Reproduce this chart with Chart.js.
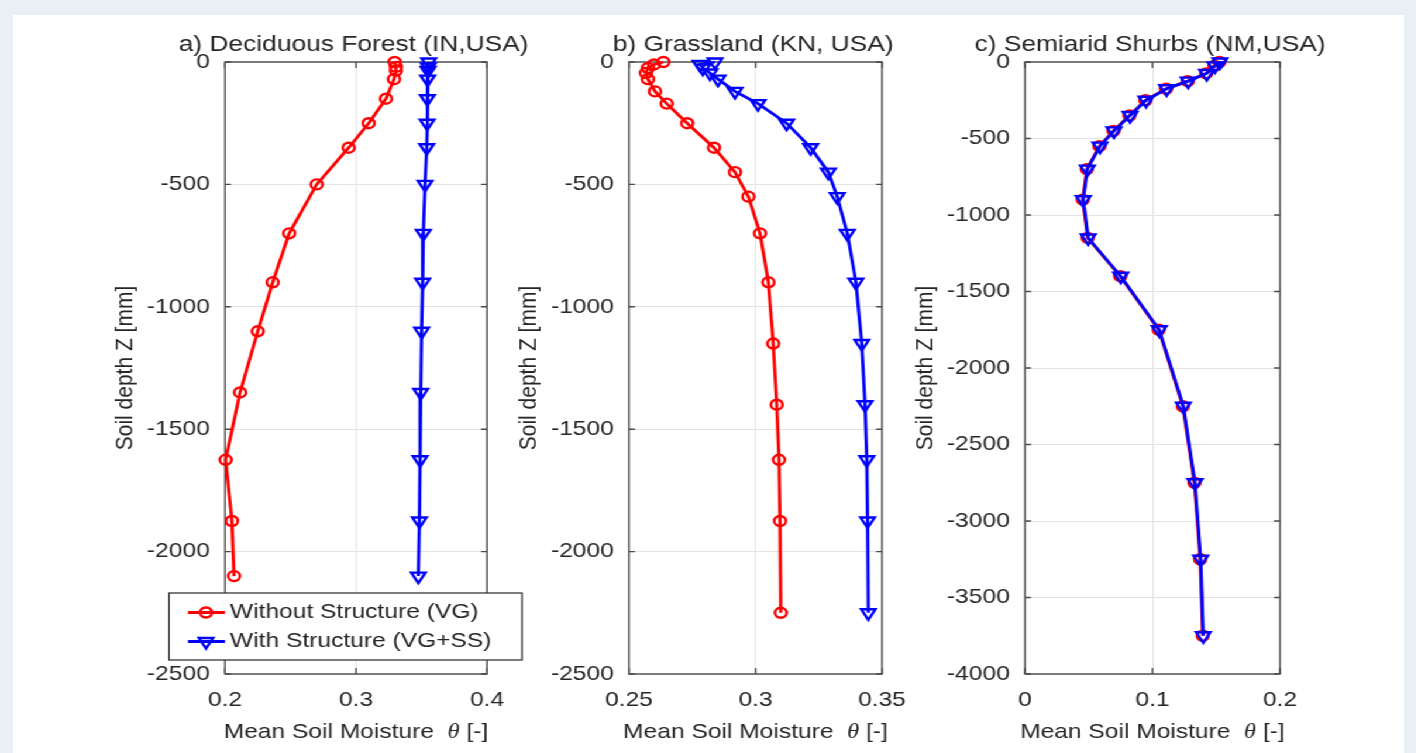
<!DOCTYPE html>
<html>
<head>
<meta charset="utf-8">
<title>Mean soil moisture profiles</title>
<script src="https://cdn.jsdelivr.net/npm/chart.js@4.4.0/dist/chart.umd.min.js"></script>
<style>
  html, body { margin: 0; padding: 0; background: #e9f0f4; overflow: hidden; }
  #sheet { position: absolute; left: 13px; top: 15px; width: 1391px; height: 738px; background: #fff; }
  /* the figure is exported with a horizontal stretch, so the panels are drawn narrower and scaled */
  #stretch { position: absolute; left: 0; top: 0; width: 1211px; height: 753px; transform: scaleX(1.17); transform-origin: 0 0; }
  #stretch canvas { position: absolute; top: 0; }
</style>
</head>
<body>
<div id="sheet"></div>
<div id="stretch">
  <canvas id="panelA" width="410" height="753" style="left:70px"></canvas>
  <canvas id="panelB" width="360" height="753" style="left:440px"></canvas>
  <canvas id="panelC" width="400" height="753" style="left:770px"></canvas>
</div>
<script>
const SX = 1.17;
const FONT = '"Liberation Sans", Arial, sans-serif';
const INK = '#262626';

const seriesNames = ['Without Structure (VG)', 'With Structure (VG+SS)'];
const panelTitles = ['a) Deciduous Forest (IN,USA)', 'b) Grassland (KN, USA)', 'c) Semiarid Shurbs (NM,USA)'];
const xLabel = ['Mean Soil Moisture  ', '\u03b8', ' [-]'];
const yLabel = 'Soil depth Z [mm]';

// a) deciduous forest
const depthForest = [0, -20, -35, -70, -150, -250, -350, -500, -700, -900, -1100, -1350, -1625, -1875, -2100];
const forestVG = [0.3295, 0.3305, 0.3305, 0.3290, 0.3229, 0.3097, 0.2944, 0.2700, 0.2490, 0.2364, 0.2250, 0.2115, 0.2005, 0.2053, 0.2069];
const forestVGSS = [0.3555, 0.3552, 0.3550, 0.3547, 0.3545, 0.3543, 0.3540, 0.3527, 0.3514, 0.3509, 0.3501, 0.3494, 0.3489, 0.3484, 0.3476];

// b) grassland
const depthGrass = [0, -10, -25, -45, -70, -120, -170, -250, -350, -450, -550, -700, -900, -1150, -1400, -1625, -1875, -2250];
const grassVG = [0.2636, 0.2599, 0.2575, 0.2567, 0.2575, 0.2603, 0.2649, 0.2730, 0.2836, 0.2919, 0.2972, 0.3018, 0.3051, 0.3070, 0.3084, 0.3093, 0.3097, 0.3100];
const grassVGSS = [0.2840, 0.2781, 0.2792, 0.2820, 0.2852, 0.2919, 0.3010, 0.3123, 0.3218, 0.3288, 0.3323, 0.3363, 0.3397, 0.3420, 0.3433, 0.3440, 0.3443, 0.3446];

// c) semiarid shrubs
const depthShrub = [0, -25, -75, -125, -175, -250, -350, -450, -550, -700, -900, -1150, -1400, -1750, -2250, -2750, -3250, -3750];
const shrubVG = [0.1525, 0.1486, 0.1421, 0.1276, 0.1107, 0.0945, 0.0820, 0.0694, 0.0584, 0.0485, 0.0453, 0.0492, 0.0747, 0.1049, 0.1238, 0.1329, 0.1374, 0.1394];
const shrubVGSS = [0.1529, 0.1490, 0.1425, 0.1280, 0.1111, 0.0949, 0.0824, 0.0698, 0.0588, 0.0489, 0.0457, 0.0496, 0.0751, 0.1053, 0.1242, 0.1333, 0.1378, 0.1398];

// axis ranges: [min, max, step]
const xRanges = [[0.2, 0.4, 0.1], [0.25, 0.35, 0.05], [0, 0.2, 0.1]];
const yRanges = [[-2500, 0, 500], [-2500, 0, 500], [-4000, 0, 500]];

const fmt = v => String(+Number(v).toFixed(3));

/**
 * Box round the axes with inward ticks, plus title, axis labels and legend
 */
const frameAndText = {
  id: 'frameAndText',
  beforeDatasetsDraw(chart) {
    const { ctx, chartArea: { left, right, top, bottom }, scales: { x, y } } = chart;
    ctx.save();
    ctx.strokeStyle = '#4a4a4a';
    ctx.lineWidth = 1.4;
    ctx.strokeRect(left, top, right - left, bottom - top);
    ctx.beginPath();
    x.ticks.forEach(({ value }) => {
      const px = x.getPixelForValue(value);
      ctx.moveTo(px, bottom); ctx.lineTo(px, bottom - 6);
      ctx.moveTo(px, top); ctx.lineTo(px, top + 6);
    });
    y.ticks.forEach(({ value }) => {
      const py = y.getPixelForValue(value);
      ctx.moveTo(left, py); ctx.lineTo(left + 6 / SX, py);
      ctx.moveTo(right, py); ctx.lineTo(right - 6 / SX, py);
    });
    ctx.stroke();
    ctx.restore();
  },
  afterDraw(chart, args, opts) {
    const { ctx, chartArea: { left, right, top, bottom } } = chart;
    const cx = (left + right) / 2;
    ctx.save();
    ctx.fillStyle = INK;
    ctx.textBaseline = 'middle';

    // title
    ctx.font = `22.5px ${FONT}`;
    ctx.textAlign = 'center';
    ctx.fillText(opts.title, cx - 2, 45);

    // x label with italic theta
    const fonts = [`21px ${FONT}`, 'italic 21px "Liberation Serif", serif', `21px ${FONT}`];
    const widths = xLabel.map((s, i) => { ctx.font = fonts[i]; return ctx.measureText(s).width; });
    let tx = cx - widths.reduce((a, b) => a + b, 0) / 2;
    ctx.textAlign = 'left';
    xLabel.forEach((s, i) => { ctx.font = fonts[i]; ctx.fillText(s, tx, 732); tx += widths[i]; });

    // y label
    ctx.save();
    ctx.translate(left - 85, (top + bottom) / 2);
    ctx.rotate(-Math.PI / 2);
    ctx.font = `21px ${FONT}`;
    ctx.textAlign = 'center';
    ctx.fillText(yLabel, 0, 0);
    ctx.restore();

    if (opts.legend) {
      const bx0 = left - 56 / SX, bx1 = left + 297 / SX;
      ctx.fillStyle = '#fff';
      ctx.fillRect(bx0, 593, bx1 - bx0, 67);
      ctx.strokeStyle = INK;
      ctx.lineWidth = 1.2;
      ctx.strokeRect(bx0, 593, bx1 - bx0, 67);

      const rows = [
        { y: 612.5, color: '#ff0000', marker: 'circle' },
        { y: 641.5, color: '#0000ff', marker: 'triangle' },
      ];
      rows.forEach(({ y, color, marker }, i) => {
        const mx = left - 19 / SX;
        ctx.strokeStyle = color;
        ctx.lineWidth = 2.8;
        ctx.beginPath();
        ctx.moveTo(left - 37 / SX, y);
        ctx.lineTo(left, y);
        ctx.stroke();
        ctx.lineWidth = 2.4;
        ctx.beginPath();
        if (marker === 'circle') {
          ctx.arc(mx, y, 5, 0, Math.PI * 2);
        } else {
          const r = 7;
          ctx.moveTo(mx, y + r);
          ctx.lineTo(mx - r * Math.sqrt(3) / 2, y - r / 2);
          ctx.lineTo(mx + r * Math.sqrt(3) / 2, y - r / 2);
          ctx.closePath();
        }
        ctx.stroke();
        ctx.fillStyle = INK;
        ctx.font = `21px ${FONT}`;
        ctx.textAlign = 'left';
        ctx.fillText(seriesNames[i], left + 5 / SX, y);
      });
    }
    ctx.restore();
  },
};

const toPoints = (depth, theta) => depth.map((d, i) => ({ x: theta[i], y: d }));

function makePanel(id, canvasLeft, frame, idx, vg, vgss, depth, withLegend) {
  const canvas = document.getElementById(id);
  const yAxisWidth = frame.left / SX - canvasLeft;
  const rightPad = canvasLeft + canvas.width - frame.right / SX;
  const [xMin, xMax, xStep] = xRanges[idx];
  const [yMin, yMax, yStep] = yRanges[idx];
  const tickFont = { family: FONT, size: 21 };

  return new Chart(canvas.getContext('2d'), {
    type: 'scatter',
    data: {
      datasets: [
        {
          label: seriesNames[0],
          data: toPoints(depth, vg),
          showLine: true,
          borderColor: '#ff0000',
          backgroundColor: 'rgba(0,0,0,0)',
          borderWidth: 2.8,
          pointStyle: 'circle',
          pointRadius: 5,
          pointBorderWidth: 2.4,
          pointBorderColor: '#ff0000',
          pointBackgroundColor: 'rgba(0,0,0,0)',
          clip: false,
          order: 1,
        },
        {
          label: seriesNames[1],
          data: toPoints(depth, vgss),
          showLine: true,
          borderColor: '#0000ff',
          backgroundColor: 'rgba(0,0,0,0)',
          borderWidth: 2.8,
          pointStyle: 'triangle',
          rotation: 180,
          pointRadius: 7,
          pointBorderWidth: 2.4,
          pointBorderColor: '#0000ff',
          pointBackgroundColor: 'rgba(0,0,0,0)',
          clip: false,
          order: 0,
        },
      ],
    },
    options: {
      responsive: false,
      animation: false,
      devicePixelRatio: 1,
      layout: { padding: { left: 0, top: 62, right: rightPad, bottom: 0 } },
      scales: {
        x: {
          type: 'linear',
          min: xMin,
          max: xMax,
          grid: { color: '#e3e3e3', lineWidth: 1, drawTicks: false },
          border: { display: false },
          ticks: { stepSize: xStep, padding: 14, color: INK, font: tickFont, maxRotation: 0, callback: fmt },
          afterFit(scale) { scale.height = 79; },
        },
        y: {
          type: 'linear',
          min: yMin,
          max: yMax,
          grid: { color: '#e3e3e3', lineWidth: 1, drawTicks: false },
          border: { display: false },
          ticks: { stepSize: yStep, padding: 13, color: INK, font: tickFont, autoSkip: false, callback: fmt },
          afterFit(scale) { scale.width = yAxisWidth; },
        },
      },
      plugins: {
        legend: { display: false },
        tooltip: { enabled: false },
        frameAndText: { title: panelTitles[idx], legend: withLegend },
      },
    },
    plugins: [frameAndText],
  });
}

makePanel('panelA', 70, { left: 225, right: 487 }, 0, forestVG, forestVGSS, depthForest, true);
makePanel('panelB', 440, { left: 629, right: 882 }, 1, grassVG, grassVGSS, depthGrass, false);
makePanel('panelC', 770, { left: 1025, right: 1280 }, 2, shrubVG, shrubVGSS, depthShrub, false);
</script>
</body>
</html>
